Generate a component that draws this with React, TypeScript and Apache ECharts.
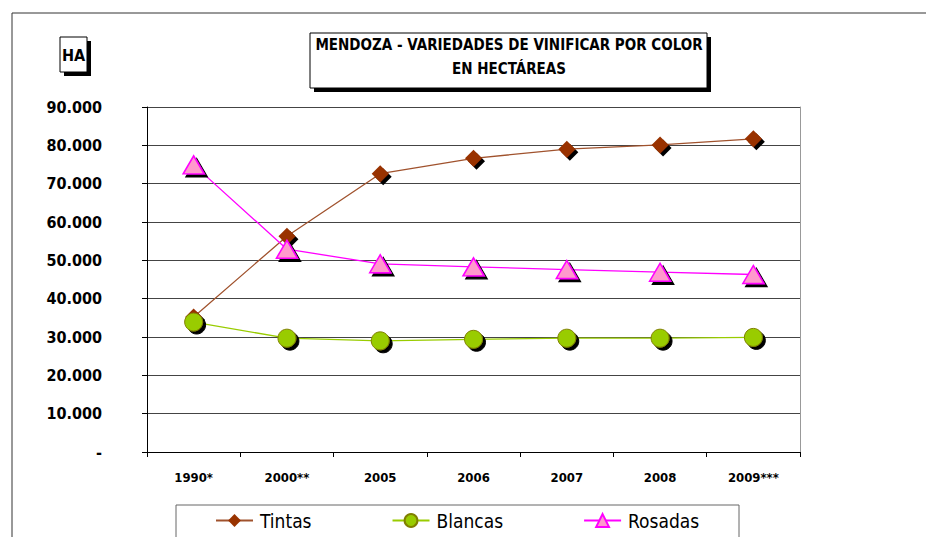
import React, { useEffect, useRef } from "react";
import * as echarts from "echarts";

const categories = ["1990*", "2000**", "2005", "2006", "2007", "2008", "2009***"];
const tintas = [35200, 56300, 72600, 76600, 79000, 80100, 81700];
const blancas = [33900, 29700, 29000, 29400, 29700, 29700, 29900];
const rosadas = [74900, 52900, 49100, 48300, 47600, 46900, 46300];
const yTicks = { min: 0, max: 90000, interval: 10000 };

const FONT = "'DejaVu Sans Condensed', 'Liberation Sans Narrow', 'Arial Narrow', sans-serif";

function fmt(v: number): string {
  if (v === 0) return "-";
  const s = String(Math.round(v));
  return s.replace(/\B(?=(\d{3})+(?!\d))/g, ".");
}

export default function App() {
  const ref = useRef<HTMLDivElement>(null);
  useEffect(() => {
    if (!ref.current) return;
    const chart = echarts.init(ref.current, undefined, { renderer: "svg" });
    const shadow = { shadowColor: "#000", shadowOffsetX: 3, shadowOffsetY: 3, shadowBlur: 0 };
    chart.setOption({
      animation: false,
      backgroundColor: "#fff",
      grid: { left: 147, right: 126, top: 107, bottom: 85 },
      graphic: [
        { type: "line", shape: { x1: 12, y1: 13, x2: 926, y2: 13 }, style: { stroke: "#333", lineWidth: 1 } },
        { type: "line", shape: { x1: 12, y1: 13, x2: 12, y2: 537 }, style: { stroke: "#333", lineWidth: 1 } },
        { type: "rect", shape: { x: 64, y: 41, width: 27, height: 35 }, style: { fill: "#000" } },
        { type: "rect", shape: { x: 60, y: 37, width: 27, height: 35 }, style: { fill: "#fff", stroke: "#000", lineWidth: 1 } },
        { type: "text", x: 73.5, y: 55, style: { text: "HA", font: `bold 16px ${FONT}`, fill: "#000", align: "center", verticalAlign: "middle" } },
        { type: "rect", shape: { x: 314, y: 37, width: 397, height: 55 }, style: { fill: "#000" } },
        { type: "rect", shape: { x: 310, y: 33, width: 397, height: 55 }, style: { fill: "#fff", stroke: "#000", lineWidth: 1 } },
        { type: "text", x: 509, y: 57, style: { text: "MENDOZA - VARIEDADES DE VINIFICAR POR COLOR\nEN HECTÁREAS", font: `bold 15px ${FONT}`, lineHeight: 24, fill: "#000", align: "center", verticalAlign: "middle" } },
        { type: "rect", shape: { x: 176, y: 505, width: 563, height: 40 }, style: { fill: "none", stroke: "#666", lineWidth: 1 } },
      ],
      legend: {
        left: 210,
        top: 506,
        itemWidth: 37,
        itemHeight: 16,
        itemGap: 80,
        textStyle: { fontFamily: FONT, fontSize: 19, color: "#000", padding: [0, 0, 0, 2] },
        data: [
          { name: "Tintas", itemStyle: { shadowOffsetX: 0, shadowOffsetY: 0 } },
          { name: "Blancas", itemStyle: { shadowOffsetX: 0, shadowOffsetY: 0 } },
          { name: "Rosadas", itemStyle: { shadowOffsetX: 0, shadowOffsetY: 0 } },
        ],
      },
      xAxis: {
        type: "category",
        data: categories,
        boundaryGap: true,
        axisLine: { lineStyle: { color: "#000", width: 1 } },
        axisTick: { show: true, length: 5, lineStyle: { color: "#000" } },
        axisLabel: { fontFamily: FONT, fontWeight: "bold", fontSize: 13, color: "#000", margin: 19 },
      },
      yAxis: [
        {
          type: "value",
          min: yTicks.min,
          max: yTicks.max,
          interval: yTicks.interval,
          axisLine: { show: true, lineStyle: { color: "#000", width: 1 } },
          axisTick: { show: true, length: 5, lineStyle: { color: "#000" } },
          axisLabel: { fontFamily: FONT, fontWeight: "bold", fontSize: 16, color: "#000", margin: 45, align: "right", formatter: fmt },
          splitLine: { show: true, lineStyle: { color: "#444", width: 1 } },
        },
        {
          type: "value",
          position: "right",
          min: yTicks.min,
          max: yTicks.max,
          interval: yTicks.interval,
          axisLine: { show: true, lineStyle: { color: "#999", width: 1 } },
          axisTick: { show: false },
          axisLabel: { show: false },
          splitLine: { show: false },
        },
      ],
      series: [
        {
          name: "Tintas",
          type: "line",
          data: tintas,
          symbol: "diamond",
          symbolSize: 17,
          lineStyle: { color: "#A0522D", width: 1.3 },
          itemStyle: { color: "#993300", borderColor: "#993300", borderWidth: 0, ...shadow },
          z: 3,
        },
        {
          name: "Blancas",
          type: "line",
          data: blancas,
          symbol: "circle",
          symbolSize: 18,
          lineStyle: { color: "#99CC00", width: 1.3 },
          itemStyle: { color: "#99CC00", borderColor: "#808000", borderWidth: 1, ...shadow },
          z: 3,
        },
        {
          name: "Rosadas",
          type: "line",
          data: rosadas,
          symbol: "triangle",
          symbolSize: [21, 18],
          lineStyle: { color: "#FF00FF", width: 1.3 },
          itemStyle: { color: "#FF99CC", borderColor: "#FF00FF", borderWidth: 1.5, ...shadow },
          z: 3,
        },
      ],
    });
    return () => chart.dispose();
  }, []);
  return <div ref={ref} style={{ position: "fixed", left: 0, top: 0, width: 926, height: 537 }} />;
}
